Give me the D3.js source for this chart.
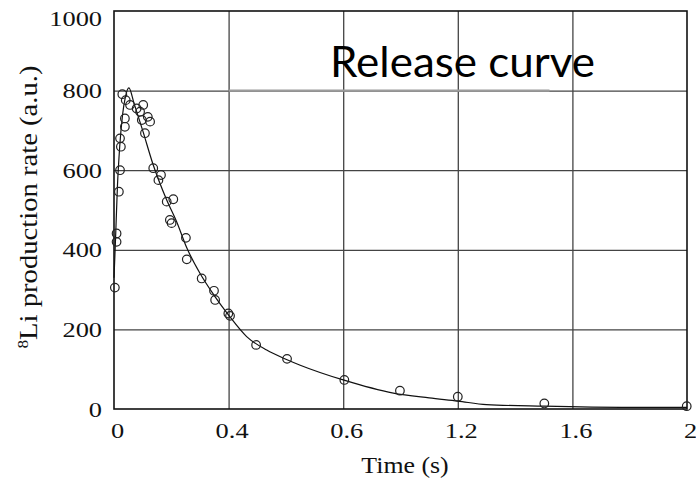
<!DOCTYPE html>
<html><head><meta charset="utf-8">
<script src="https://cdn.jsdelivr.net/npm/d3@7"></script>
<style>body{margin:0;background:#fff}</style>
</head><body><svg id="c" width="696" height="478"></svg>
<script>
// ---- data ----
const xTickValues = [0, 0.4, 0.8, 1.2, 1.6, 2];
const xTickLabels = ["0", "0.4", "0.6", "1.2", "1.6", "2"];
const yTickValues = [0, 200, 400, 600, 800, 1000];
const yTickLabels = ["0", "200", "400", "600", "800", "1000"];

const dataTime = [0.003, 0.009, 0.009, 0.017, 0.021, 0.021, 0.024, 0.029, 0.038, 0.038, 0.041, 0.056,
  0.079, 0.091, 0.097, 0.102, 0.108, 0.118, 0.126, 0.137, 0.155, 0.164, 0.184, 0.207, 0.195, 0.201,
  0.251, 0.254, 0.306, 0.349, 0.353, 0.399, 0.405, 0.496, 0.604, 0.804, 0.998, 1.2, 1.502, 1.999];
const dataRate = [305, 420, 441, 546, 600, 680, 659, 791, 730, 709, 776, 764,
  755, 747, 726, 764, 693, 734, 722, 605, 575, 588, 521, 527, 475, 467,
  430, 376, 328, 297, 274, 240, 234, 161, 126, 73, 46, 31, 14, 7];

const curveTime = [0, 0.005, 0.012, 0.02, 0.03, 0.04, 0.052, 0.07, 0.1, 0.137, 0.184, 0.219, 0.254,
  0.3, 0.35, 0.4, 0.463, 0.533, 0.6, 0.65, 0.8, 0.975, 1.1, 1.2, 1.3, 1.5, 1.8, 2.0];
const curveRate = [330, 420, 560, 660, 740, 785, 807, 768, 700, 613, 525, 470, 405,
  341, 285, 236, 182, 148, 125, 110, 73, 40, 28, 20, 11, 7, 4, 4];

const xTitle = "Time (s)";
const yTitleSup = "8";
const yTitleMain = "Li production rate (a.u.)";
const annotation = "Release curve";

// ---- drawing ----
const W = 696, H = 478;
const m = {l: 114, r: 687, t: 11, b: 409};
const svg = d3.select("#c");
svg.append("rect").attr("width", W).attr("height", H).attr("fill", "#fff");

const x = d3.scaleLinear().domain([0, 2]).range([m.l, m.r]);
const y = d3.scaleLinear().domain([0, 1000]).range([m.b, m.t]);
const serif = "'Liberation Serif','Times New Roman',Times,serif";

// grid lines via axes
const gx = svg.append("g").attr("transform", `translate(0,${m.b})`)
  .call(d3.axisBottom(x).tickValues(xTickValues.slice(1, -1)).tickSize(-(m.b - m.t)).tickFormat(""));
gx.select(".domain").remove();
gx.selectAll(".tick line").attr("stroke", "#444").attr("stroke-width", 1.3);

const gy = svg.append("g").attr("transform", `translate(${m.l},0)`)
  .call(d3.axisLeft(y).tickValues(yTickValues.slice(1, -1)).tickSize(-(m.r - m.l)).tickFormat(""));
gy.select(".domain").remove();
gy.selectAll(".tick line").attr("stroke", "#444").attr("stroke-width", 1.3);

// lighter segment on the 800 grid line (as in the reference scan)
svg.append("line").attr("x1", x(0.4)).attr("x2", x(1.52)).attr("y1", y(800)).attr("y2", y(800))
  .attr("stroke", "#9c9c9c").attr("stroke-width", 2.2);

// frame
svg.append("rect").attr("x", m.l).attr("y", m.t).attr("width", m.r - m.l).attr("height", m.b - m.t)
  .attr("fill", "none").attr("stroke", "#111").attr("stroke-width", 1.6);

// tick labels
const ax = svg.append("g").attr("transform", `translate(0,${m.b})`)
  .call(d3.axisBottom(x).tickValues(xTickValues).tickSize(0).tickPadding(13.7)
    .tickFormat((d, i) => xTickLabels[i]));
ax.select(".domain").remove();
ax.selectAll("text").attr("font-family", serif).attr("font-size", 22).attr("fill", "#111")
  .attr("transform", "translate(3,0) scale(1.2,1)");

const ay = svg.append("g").attr("transform", `translate(${m.l},0)`)
  .call(d3.axisLeft(y).tickValues(yTickValues).tickSize(0).tickPadding(10)
    .tickFormat((d, i) => yTickLabels[i]));
ay.select(".domain").remove();
ay.selectAll("text").attr("font-family", serif).attr("font-size", 22).attr("fill", "#111")
  .attr("transform", "scale(1.2,1)")
  .attr("dy", d => d === 1000 ? "0.66em" : "0.32em");

// curve
const line = d3.line().x(d => x(d[0])).y(d => y(d[1])).curve(d3.curveMonotoneX);
svg.append("path").datum(d3.zip(curveTime, curveRate)).attr("d", line)
  .attr("fill", "none").attr("stroke", "#111").attr("stroke-width", 1.2);

// points
svg.append("g").selectAll("circle").data(d3.zip(dataTime, dataRate)).join("circle")
  .attr("cx", d => x(d[0])).attr("cy", d => y(d[1])).attr("r", 4.3)
  .attr("fill", "none").attr("stroke", "#222").attr("stroke-width", 1.2);

// axis titles
svg.append("text").attr("x", 405).attr("y", 473).attr("text-anchor", "middle")
  .attr("font-family", serif).attr("font-size", 23.5).attr("fill", "#111")
  .attr("transform", "translate(405,0) scale(1.1,1) translate(-405,0)")
  .text(xTitle);

const yt = svg.append("text").attr("transform", "translate(37,207) rotate(-90)")
  .attr("text-anchor", "middle").attr("font-family", serif).attr("font-size", 25).attr("fill", "#111")
  .attr("textLength", 283).attr("lengthAdjust", "spacingAndGlyphs");
yt.append("tspan").attr("font-size", 15).attr("dy", -9).text(yTitleSup);
yt.append("tspan").attr("dy", 9).text(yTitleMain);

// annotation
svg.append("text").attr("x", 330).attr("y", 77)
  .attr("font-family", "Lato, 'Open Sans', sans-serif").attr("font-size", 43).attr("fill", "#000")
  .attr("textLength", 265).attr("lengthAdjust", "spacingAndGlyphs")
  .text(annotation);
</script></body></html>
